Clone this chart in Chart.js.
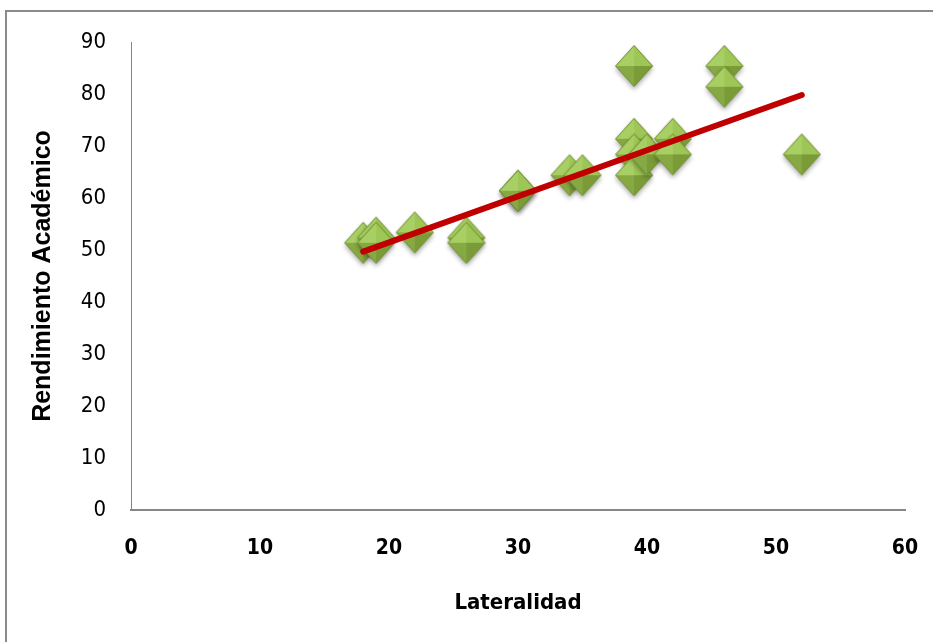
<!DOCTYPE html>
<html>
<head>
<meta charset="utf-8">
<script src="https://cdn.jsdelivr.net/npm/chart.js@4/dist/chart.umd.min.js"></script>
<style>
  body { margin: 0; background: #fff; }
  #wrap { position: relative; width: 933px; height: 642px; overflow: hidden; }
  #frame { position: absolute; left: 5px; top: 10px; width: 1000px; height: 700px;
           border-left: 2px solid #8a8a8a; border-top: 2px solid #8a8a8a; }
  canvas { position: absolute; left: 0; top: 0; }
</style>
</head>
<body>
<div id="wrap">
  <div id="frame"></div>
  <canvas id="myChart" width="933" height="642"></canvas>
</div>
<script>
// Lateralidad (x) vs Rendimiento Académico (y)
var lateralidad = [18, 19, 19, 22, 26, 26, 30, 30, 34, 35, 39, 39, 39, 39, 40, 42, 42, 46, 46, 52];
var rendimiento = [51, 52, 51, 53, 52, 51, 61, 61, 64, 64, 85, 71, 68, 64, 68, 71, 68, 85, 81, 68];
// linea de tendencia (extremos)
var tendX = [18, 52];
var tendY = [49.7, 79.8];
var xTicks = [0, 10, 20, 30, 40, 50, 60];
var yTicks = [0, 10, 20, 30, 40, 50, 60, 70, 80, 90];

var narrow = "'DejaVu Sans Condensed', 'DejaVu Sans', sans-serif";
var arial = "'Liberation Sans', Arial, sans-serif";

// diamante verde con facetas
function make_diamond() {
    var c = document.createElement('canvas');
    c.width = 48; c.height = 54;
    var g = c.getContext('2d');
    var cx = 24, cy = 25, w = 18.5, h = 20.5;
    g.save();
    g.shadowColor = 'rgba(0,0,0,0.35)';
    g.shadowBlur = 5;
    g.shadowOffsetY = 3;
    g.beginPath();
    g.moveTo(cx, cy - h); g.lineTo(cx + w, cy); g.lineTo(cx, cy + h); g.lineTo(cx - w, cy);
    g.closePath();
    g.fillStyle = '#86a843';
    g.fill();
    g.restore();
    function tri(x1, y1, x2, y2, x3, y3, col) {
        g.beginPath(); g.moveTo(x1, y1); g.lineTo(x2, y2); g.lineTo(x3, y3); g.closePath();
        g.fillStyle = col; g.fill();
    }
    tri(cx, cy - h, cx - w, cy, cx, cy, '#a8cf63');
    tri(cx, cy - h, cx + w, cy, cx, cy, '#9dc657');
    tri(cx - w, cy, cx, cy + h, cx, cy, '#87a943');
    tri(cx + w, cy, cx, cy + h, cx, cy, '#7a9b38');
    g.beginPath();
    g.moveTo(cx, cy - h); g.lineTo(cx + w, cy); g.lineTo(cx, cy + h); g.lineTo(cx - w, cy);
    g.closePath();
    g.strokeStyle = '#6f8f2e'; g.lineWidth = 1; g.stroke();
    return c;
}

var pts = [];
for (var i = 0; i < lateralidad.length; i++) pts.push({x: lateralidad[i], y: rendimiento[i]});
var tend = [];
for (var j = 0; j < tendX.length; j++) tend.push({x: tendX[j], y: tendY[j]});

new Chart(document.getElementById('myChart'), {
    type: 'scatter',
    data: {
        datasets: [
            {
                type: 'line',
                data: tend,
                borderColor: '#c00000',
                borderWidth: 6,
                borderCapStyle: 'round',
                pointRadius: 0,
                fill: false,
                order: 0
            },
            {
                data: pts,
                pointStyle: make_diamond(),
                pointRadius: 20,
                order: 1
            }
        ]
    },
    options: {
        responsive: false,
        animation: false,
        layout: {padding: {left: 0, right: 28, top: 42, bottom: 0}},
        plugins: {legend: {display: false}, tooltip: {enabled: false}},
        scales: {
            x: {
                type: 'linear', min: 0, max: 60,
                afterBuildTicks: function (s) { s.ticks = xTicks.map(function (v) { return {value: v}; }); },
                afterFit: function (s) { s.height = 132; s.paddingRight = 0; s.paddingLeft = 0; },
                grid: {display: false, drawTicks: false},
                border: {color: '#868686', width: 2},
                ticks: {color: '#000', padding: 26, font: {family: narrow, size: 21, weight: 'bold'}},
                title: {display: true, text: 'Lateralidad', color: '#000',
                        padding: {top: 0, bottom: 26}, font: {family: narrow, size: 22, weight: 'bold'}}
            },
            y: {
                type: 'linear', min: 0, max: 90,
                afterBuildTicks: function (s) { s.ticks = yTicks.map(function (v) { return {value: v}; }); },
                afterFit: function (s) { s.width = 131; s.paddingTop = 0; s.paddingBottom = 0; },
                grid: {display: false, drawTicks: false},
                border: {color: '#868686', width: 1},
                ticks: {color: '#000', padding: 25, font: {family: narrow, size: 22}},
                title: {display: true, text: 'Rendimiento Académico', color: '#000',
                        padding: {top: 28, bottom: 0}, font: {family: arial, size: 25, weight: 'bold'}}
            }
        }
    }
});
</script>
</body>
</html>
